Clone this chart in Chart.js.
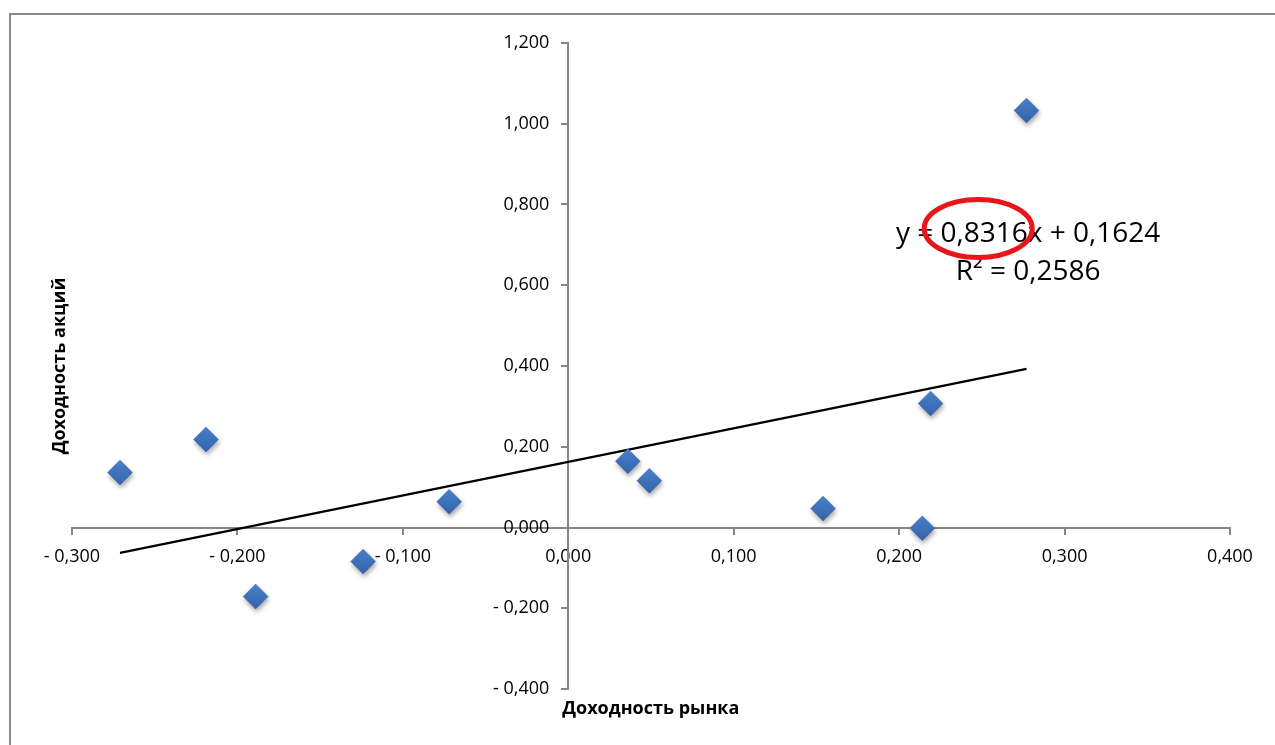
<!DOCTYPE html>
<html lang="ru">
<head>
<meta charset="utf-8">
<title>Доходность акций и рынка</title>
<script src="https://cdn.jsdelivr.net/npm/chart.js@4/dist/chart.umd.min.js"></script>
<style>
  html, body { margin: 0; padding: 0; background: #ffffff; }
  #wrap { position: relative; width: 1275px; height: 745px; }
</style>
</head>
<body>
<div id="wrap"><canvas id="chart" width="1275" height="745"></canvas></div>
<script>
// Доходность рынка (x) и доходность акций (y) по периодам
const marketReturns = [-0.271, -0.219, -0.189, -0.124, -0.072, 0.036, 0.049, 0.154, 0.214, 0.219, 0.277];
const stockReturns  = [ 0.136,  0.218, -0.171, -0.084,  0.064, 0.164, 0.116, 0.047, -0.002, 0.307, 1.033];

// Линейный тренд, как подписан на графике
const trendSlope = 0.8316;
const trendIntercept = 0.1624;
const trendR2 = 0.2586;

// Границы осей и шаг делений
const xTicks = { min: -0.3, max: 0.4, step: 0.1 };
const yTicks = { min: -0.4, max: 1.2, step: 0.2 };

const xTitle = 'Доходность рынка';
const yTitle = 'Доходность акций';

const FONT = '"Open Sans", "DejaVu Sans", sans-serif';
const AXIS_GREY = '#868686';
const TICK_FONT_SIZE = 18;

function fmt(v) {
  const r = Math.round(v * 1000) / 1000;
  const s = Math.abs(r).toFixed(3).replace('.', ',');
  return r < 0 ? '- ' + s : s;
}
function fmtCoef(v) {
  return v.toFixed(4).replace('.', ',');
}

const points = marketReturns.map((x, i) => ({ x, y: stockReturns[i] }));
const xLo = Math.min(...marketReturns);
const xHi = Math.max(...marketReturns);
const trendPoints = [
  { x: xLo, y: trendSlope * xLo + trendIntercept },
  { x: xHi, y: trendSlope * xHi + trendIntercept }
];

// Рамка области диаграммы (верх и левый край)
const framePlugin = {
  id: 'frame',
  beforeDraw(chart) {
    const ctx = chart.ctx;
    ctx.save();
    ctx.strokeStyle = '#8a8a8a';
    ctx.lineWidth = 2;
    ctx.beginPath();
    ctx.moveTo(1275, 14);
    ctx.lineTo(10, 14);
    ctx.lineTo(10, 745);
    ctx.stroke();
    ctx.restore();
  }
};

// Тень под маркерами
const shadowPlugin = {
  id: 'markerShadow',
  beforeDatasetDraw(chart, args) {
    if (args.index !== 1) return;
    const ctx = chart.ctx;
    ctx.save();
    ctx.shadowColor = 'rgba(0,0,0,0.35)';
    ctx.shadowBlur = 5;
    ctx.shadowOffsetX = 1;
    ctx.shadowOffsetY = 3;
  },
  afterDatasetDraw(chart, args) {
    if (args.index !== 1) return;
    chart.ctx.restore();
  }
};

// Подписи делений оси Y слева от оси, проходящей через x = 0
const yTickLabelsPlugin = {
  id: 'yTickLabels',
  afterDraw(chart) {
    const ctx = chart.ctx;
    const ys = chart.scales.y;
    const axisX = chart.scales.x.getPixelForValue(0);
    ctx.save();
    ctx.fillStyle = '#000';
    ctx.font = TICK_FONT_SIZE + 'px ' + FONT;
    ctx.textAlign = 'right';
    ctx.textBaseline = 'middle';
    ys.ticks.forEach(t => {
      ctx.fillText(fmt(t.value), axisX - 19, ys.getPixelForValue(t.value));
    });
    ctx.restore();
  }
};

// Подписи осей, уравнение тренда и выделение коэффициента
const labelsPlugin = {
  id: 'labels',
  afterDraw(chart) {
    const ctx = chart.ctx;
    const area = chart.chartArea;
    const xs = chart.scales.x;
    const ys = chart.scales.y;
    const originX = xs.getPixelForValue(0);
    ctx.save();

    ctx.fillStyle = '#000';
    ctx.font = 'bold 18px ' + FONT;
    ctx.textAlign = 'left';
    ctx.textBaseline = 'middle';
    ctx.fillText(xTitle, originX - 6, area.bottom + 20);

    ctx.save();
    ctx.translate(area.left - 12, (area.top + area.bottom) / 2);
    ctx.rotate(-Math.PI / 2);
    ctx.textAlign = 'center';
    ctx.fillText(yTitle, 0, 0);
    ctx.restore();

    // Уравнение регрессии
    const cx = xs.getPixelForValue(0.278);
    const base1 = ys.getPixelForValue(0.706);
    const base2 = ys.getPixelForValue(0.612);
    ctx.font = '28px ' + FONT;
    ctx.textAlign = 'center';
    ctx.textBaseline = 'alphabetic';
    const line1 = 'y = ' + fmtCoef(trendSlope) + 'x + ' + fmtCoef(trendIntercept);
    ctx.fillText(line1, cx, base1);
    ctx.fillText('R² = ' + fmtCoef(trendR2), cx, base2);

    // Обводка коэффициента наклона
    const w1 = ctx.measureText(line1).width;
    const pre = ctx.measureText('y = ').width;
    const coefW = ctx.measureText(fmtCoef(trendSlope)).width;
    const ex = cx - w1 / 2 + pre + coefW / 2 - 6;
    const ey = base1 - 14;
    ctx.strokeStyle = '#e8161b';
    ctx.lineWidth = 5;
    ctx.beginPath();
    ctx.ellipse(ex, ey, 54, 29, 0, 0, Math.PI * 2);
    ctx.stroke();

    ctx.restore();
  }
};

function diamondFill(context) {
  const chart = context.chart;
  const p = context.raw;
  const base = '#3d72bd';
  if (!p || !chart.scales || !chart.scales.y || !chart.chartArea) return base;
  const py = chart.scales.y.getPixelForValue(p.y);
  if (!isFinite(py)) return base;
  const g = chart.ctx.createLinearGradient(0, py - 12, 0, py + 12);
  g.addColorStop(0, '#4a81cf');
  g.addColorStop(1, '#3463aa');
  return g;
}

new Chart(document.getElementById('chart'), {
  type: 'scatter',
  data: {
    datasets: [
      {
        type: 'line',
        label: 'Линейный тренд',
        data: trendPoints,
        borderColor: '#000000',
        borderWidth: 2.2,
        pointRadius: 0,
        fill: false,
        order: 2
      },
      {
        label: 'Доходность',
        data: points,
        pointStyle: 'rectRot',
        pointRadius: 12.5,
        pointHoverRadius: 12.5,
        backgroundColor: diamondFill,
        borderColor: 'rgba(40,80,150,0.6)',
        borderWidth: 0.5,
        order: 1
      }
    ]
  },
  options: {
    responsive: false,
    animation: false,
    events: [],
    layout: { padding: { left: 72, right: 45, top: 43, bottom: 56 } },
    plugins: {
      legend: { display: false },
      tooltip: { enabled: false },
      title: { display: false }
    },
    scales: {
      x: {
        type: 'linear',
        position: { y: 0 },
        min: xTicks.min,
        max: xTicks.max,
        afterFit(scale) { scale.height = 0; },
        ticks: {
          stepSize: xTicks.step,
          color: '#000',
          font: { family: FONT, size: TICK_FONT_SIZE },
          padding: 13,
          maxRotation: 0,
          callback: v => fmt(v)
        },
        grid: { drawOnChartArea: false, drawTicks: true, tickLength: 6, color: AXIS_GREY, lineWidth: 2 },
        border: { display: true, color: AXIS_GREY, width: 2 }
      },
      y: {
        type: 'linear',
        position: { x: 0 },
        min: yTicks.min,
        max: yTicks.max,
        afterFit(scale) { scale.width = 0; },
        ticks: {
          stepSize: yTicks.step,
          display: false,
          callback: v => fmt(v)
        },
        grid: { drawOnChartArea: false, drawTicks: true, tickLength: 6, color: AXIS_GREY, lineWidth: 2 },
        border: { display: true, color: AXIS_GREY, width: 2 }
      }
    }
  },
  plugins: [framePlugin, shadowPlugin, yTickLabelsPlugin, labelsPlugin]
});
</script>
</body>
</html>
